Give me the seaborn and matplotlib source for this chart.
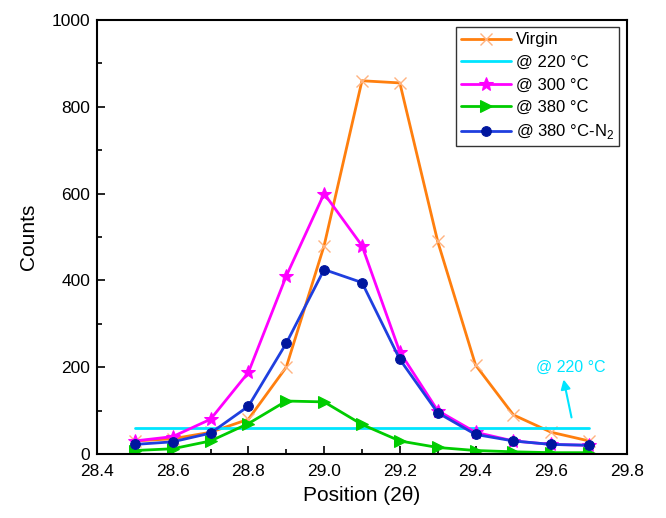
import numpy as np
import pandas as pd
import matplotlib
matplotlib.use('Agg')
import matplotlib.pyplot as plt
import seaborn as sns

# 2theta positions
position = [28.5, 28.6, 28.7, 28.8, 28.9, 29.0, 29.1, 29.2, 29.3, 29.4, 29.5, 29.6, 29.7]

virgin = [30, 35, 50, 80, 200, 480, 860, 855, 490, 205, 90, 50, 30]
t220 = [60, 60, 60, 60, 60, 60, 60, 60, 60, 60, 60, 60, 60]
t300 = [30, 40, 80, 188, 410, 600, 480, 235, 100, 50, 30, 22, 20]
t380 = [8, 12, 30, 70, 122, 120, 68, 30, 15, 8, 5, 3, 3]
t380_n2 = [22, 28, 48, 110, 255, 425, 395, 218, 95, 45, 30, 22, 20]

sns.set_style("ticks")
plt.rcParams['font.family'] = ['Liberation Sans', 'DejaVu Sans']
plt.rcParams['mathtext.fontset'] = 'custom'
plt.rcParams['mathtext.rm'] = 'Liberation Sans'
plt.rcParams['text.color'] = 'black'
plt.rcParams['axes.labelcolor'] = 'black'
plt.rcParams['xtick.color'] = 'black'
plt.rcParams['ytick.color'] = 'black'

fig = plt.figure(figsize=(6.66, 5.18), dpi=100)
ax = fig.add_axes([0.1456, 0.1236, 0.7958, 0.8378])

series = [
	('Virgin', virgin, '#ff7f0e', 'x', 9, 0.5),
	('@ 220 °C', t220, '#00e5ff', None, 0, 1),
	('@ 300 °C', t300, '#ff00ff', '*', 10, 1),
	('@ 380 °C', t380, '#00cc00', '>', 8, 1),
	('@ 380 °C-N$_2$', t380_n2, '#1f3fdf', 'o', 7, 1),
]

for name, vals, col, mk, ms, alpha in series:
	df = pd.DataFrame({'x': position, 'y': vals})
	kw = dict(marker=mk, markersize=ms) if mk else {}
	sns.lineplot(data=df, x='x', y='y', ax=ax, color=col, linewidth=2, label=name, **kw)
	if mk == 'x':
		ax.lines[-1].set_markeredgecolor('#ffb380')
		ax.lines[-1].set_markeredgewidth(1)
	elif mk == 'o':
		ax.lines[-1].set_markerfacecolor('#00169e')
		ax.lines[-1].set_markeredgecolor('#00169e')
	elif mk:
		ax.lines[-1].set_markeredgecolor(col)

ax.set_xlim(28.4, 29.8)
ax.set_ylim(0, 1000)
ax.set_xticks(np.arange(28.4, 29.81, 0.2))
ax.set_xticklabels(['28.4', '28.6', '28.8', '29.0', '29.2', '29.4', '29.6', '29.8'])
ax.set_yticks(np.arange(0, 1001, 200))
ax.set_xticks(np.arange(28.5, 29.8, 0.2), minor=True)
ax.set_yticks(np.arange(100, 1000, 200), minor=True)
ax.tick_params(which='both', direction='in', top=False, right=False, labelsize=12.5, width=1.2)
ax.tick_params(which='major', length=6)
ax.tick_params(axis='x', which='major', pad=7)
ax.tick_params(axis='y', which='major', pad=5)
ax.tick_params(which='minor', length=3.5)
for sp in ax.spines.values():
	sp.set_linewidth(1.5)
	sp.set_visible(True)
	sp.set_color('black')

ax.set_xlabel('Position (2θ)', fontsize=15, labelpad=5)
ax.set_ylabel('Counts', fontsize=15, labelpad=10)

ax.annotate('@ 220 °C', xy=(29.631, 175), xytext=(29.652, 200), color='#00e5ff',
			fontsize=11.5, ha='center', va='center')
ax.annotate('', xy=(29.631, 178), xytext=(29.655, 78),
			arrowprops=dict(arrowstyle='-|>', color='#00e5ff', lw=1.5, mutation_scale=14))

leg = ax.legend(loc='upper right', fontsize=12, frameon=True, fancybox=False,
				edgecolor='black', handlelength=3.0, borderpad=0.3, labelspacing=0.45,
				handletextpad=0.3, borderaxespad=0.45)
leg.get_frame().set_linewidth(1)

fig.savefig('out.png', dpi=100)
